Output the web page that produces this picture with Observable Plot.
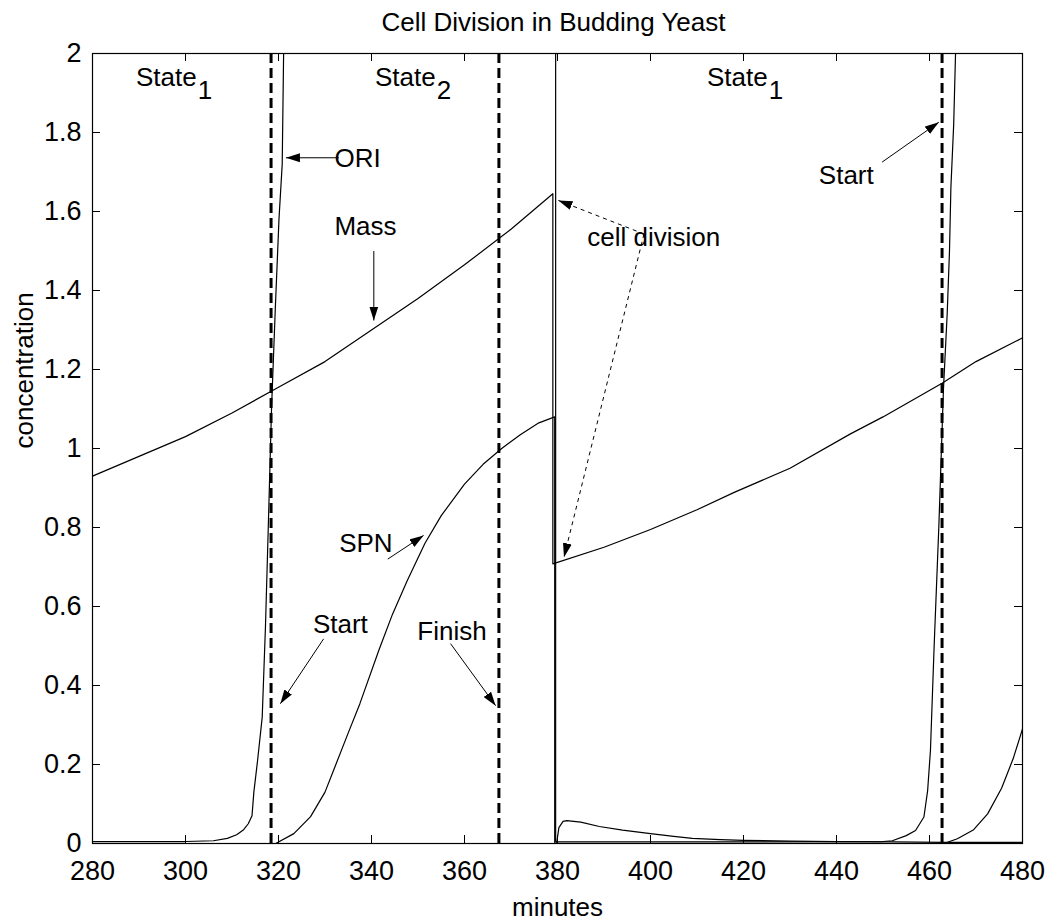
<!DOCTYPE html>
<html><head><meta charset="utf-8">
<script src="https://cdn.jsdelivr.net/npm/d3@7"></script>
<script src="https://cdn.jsdelivr.net/npm/@observablehq/plot@0.6"></script>
<style>html,body{margin:0;padding:0;background:#fff} svg{display:block}</style>
</head><body><div id="chart"></div>
<script>
// ---- data ----
const xTicks = [280, 300, 320, 340, 360, 380, 400, 420, 440, 460, 480];
const yTicks = [0, 0.2, 0.4, 0.6, 0.8, 1, 1.2, 1.4, 1.6, 1.8, 2];

// [minutes, concentration]
const mass = [[280,0.93],[290,0.98],[300,1.03],[310,1.09],[320,1.155],[330,1.22],[340,1.30],[350,1.38],[360,1.465],[370,1.555],[379.0,1.645],
  [379.0,0.708],[390,0.75],[400,0.795],[410,0.845],[418,0.889],[430,0.95],[443,1.037],[450,1.08],[462.7,1.165],[470,1.22],[480,1.28]];

const spn = [[280,0],[319.4,0],[323.3,0.025],[326.9,0.068],[330,0.13],[332,0.19],[335,0.28],[337.5,0.354],[341.6,0.49],[344.5,0.58],[347.7,0.666],[351.5,0.76],[355,0.83],[360,0.91],[364,0.96],[368,1.0],[372,1.035],[376,1.065],[379.4,1.08],
  [379.4,0],[463.1,0],[466,0.012],[469.5,0.035],[472.5,0.075],[475.5,0.14],[478,0.215],[480,0.29]];

const ori = [[280,0.005],[300,0.005],[306,0.007],[309,0.013],[311,0.022],[312.5,0.035],[313.5,0.05],[314.3,0.07],[314.7,0.13],[315.5,0.21],[316.5,0.32],[317.2,0.55],[317.8,0.8],[318.5,1.1],[319.3,1.35],[320.1,1.58],[320.8,1.72],[321.1,2.0],[321.4,2.3],
  [379.6,2.3],[379.6,0.004],[420,0.004],[450,0.005],[452,0.007],[455,0.02],[457,0.033],[458.8,0.067],[459.6,0.134],[460.2,0.235],[461,0.5],[462,0.8],[463,1.15],[463.8,1.34],[464.3,1.5],[464.6,1.66],[465.2,1.82],[465.6,2.0],[465.9,2.3],[480,2.3]];

const other = [[379.8,0],[380.3,0.04],[381.2,0.056],[382,0.058],[385,0.054],[389,0.043],[394,0.034],[400,0.025],[405,0.018],[409,0.013],[415,0.01],[420,0.008],[430,0.006],[440,0.005],[452,0.004],[463,0.003],[480,0.003]];

const events = [318.4, 367.4, 462.7];   // Start, Finish, Start

const stateWords = [
  {x: 302.4, y: 1.939, sub: "1"},
  {x: 353.8, y: 1.939, sub: "2"},
  {x: 425.2, y: 1.939, sub: "1"}
];

const notes = [
  {text: "ORI", x: 337.0, y: 1.735, anchor: "start"},
  {text: "Mass", x: 338.7, y: 1.561, anchor: "middle"},
  {text: "cell division", x: 400.7, y: 1.535, anchor: "start"},
  {text: "SPN", x: 338.8, y: 0.76, anchor: "middle"},
  {text: "Start", x: 333.3, y: 0.555, anchor: "middle"},
  {text: "Finish", x: 357.3, y: 0.537, anchor: "middle"},
  {text: "Start", x: 442.1, y: 1.69, anchor: "middle"}
];

const arrows = [
  {x1: 333.0, y1: 1.736, x2: 321.6, y2: 1.736},
  {x1: 340.5, y1: 1.50, x2: 340.5, y2: 1.324},
  {x1: 343.5, y1: 0.72, x2: 351.2, y2: 0.78},
  {x1: 329.7, y1: 0.518, x2: 320.4, y2: 0.354},
  {x1: 357.0, y1: 0.506, x2: 366.7, y2: 0.349},
  {x1: 449.8, y1: 1.725, x2: 462.0, y2: 1.826}
];
const dottedArrows = [
  {x1: 398.6, y1: 1.543, x2: 380.2, y2: 1.628},
  {x1: 398.6, y1: 1.543, x2: 381.4, y2: 0.725}
];

// ---- drawing ----
const FONT = "'Liberation Sans', Arial, Helvetica, sans-serif";
function filledHead(color, context) {
  const doc = (context && context.document) || document;
  const ns = "http://www.w3.org/2000/svg";
  const m = doc.createElementNS(ns, "marker");
  m.setAttribute("viewBox", "-14 -5 14 10");
  m.setAttribute("markerWidth", "14");
  m.setAttribute("markerHeight", "10");
  m.setAttribute("markerUnits", "userSpaceOnUse");
  m.setAttribute("refX", "0");
  m.setAttribute("refY", "0");
  m.setAttribute("orient", "auto");
  const p = doc.createElementNS(ns, "path");
  p.setAttribute("d", "M0,0L-14,-4.5L-14,4.5Z");
  p.setAttribute("fill", "black");
  p.setAttribute("stroke", "none");
  m.appendChild(p);
  return m;
}

const lineOpts = {x: d => d[0], y: d => d[1], stroke: "black", strokeWidth: 1.2, curve: "linear", clip: true};

const chart = Plot.plot({
  width: 1047,
  height: 921,
  marginLeft: 92,
  marginRight: 25,
  marginTop: 53,
  marginBottom: 78,
  style: {fontFamily: FONT, fontSize: "26px", background: "white", color: "black", overflow: "visible"},
  x: {domain: [280, 480]},
  y: {domain: [0, 2]},
  marks: [
    Plot.line(other, lineOpts),
    Plot.line(ori, lineOpts),
    Plot.line(spn, lineOpts),
    Plot.line(mass, lineOpts),
    Plot.ruleX(events, {x: d => d, y1: 0, y2: 2, stroke: "black", strokeWidth: 3, strokeDasharray: "10,5"}),
    Plot.frame({stroke: "black", strokeWidth: 1.2}),
    Plot.tickX(xTicks, {x: d => d, insetTop: 782, stroke: "black"}),
    Plot.tickX(xTicks, {x: d => d, insetBottom: 782, stroke: "black"}),
    Plot.tickY(yTicks, {y: d => d, insetRight: 922, stroke: "black"}),
    Plot.tickY(yTicks, {y: d => d, insetLeft: 922, stroke: "black"}),
    Plot.axisX(xTicks, {tickSize: 0, tickPadding: 17, fontSize: 27, label: null, tickFormat: d => String(d)}),
    Plot.axisY(yTicks, {tickSize: 0, tickPadding: 11, fontSize: 27, label: null, tickFormat: d => String(d)}),
    Plot.text(["minutes"], {frameAnchor: "bottom", dy: 64, text: d => d, fontSize: 26, lineAnchor: "middle"}),
    Plot.text(["concentration"], {frameAnchor: "left", dx: -68, rotate: -90, text: d => d, fontSize: 26, lineAnchor: "middle"}),
    Plot.text(["Cell Division in Budding Yeast"], {frameAnchor: "top", dy: -31, dx: -4, text: d => d, fontSize: 26, lineAnchor: "middle"}),
    Plot.text(stateWords, {x: "x", y: "y", text: () => "State", textAnchor: "end", fontSize: 26, lineAnchor: "middle"}),
    Plot.text(stateWords, {x: "x", y: "y", text: "sub", textAnchor: "start", dx: 1, dy: 13, fontSize: 26, lineAnchor: "middle"}),
    Plot.text(notes, {x: "x", y: "y", text: "text", textAnchor: d => d.anchor, fontSize: 26, lineAnchor: "middle"}),
    Plot.link(arrows, {x1: "x1", y1: "y1", x2: "x2", y2: "y2", stroke: "black", strokeWidth: 1, markerEnd: filledHead}),
    Plot.link(dottedArrows, {x1: "x1", y1: "y1", x2: "x2", y2: "y2", stroke: "black", strokeWidth: 1, strokeDasharray: "4,4", markerEnd: filledHead})
  ]
});
document.getElementById("chart").appendChild(chart);
</script>
</body></html>
